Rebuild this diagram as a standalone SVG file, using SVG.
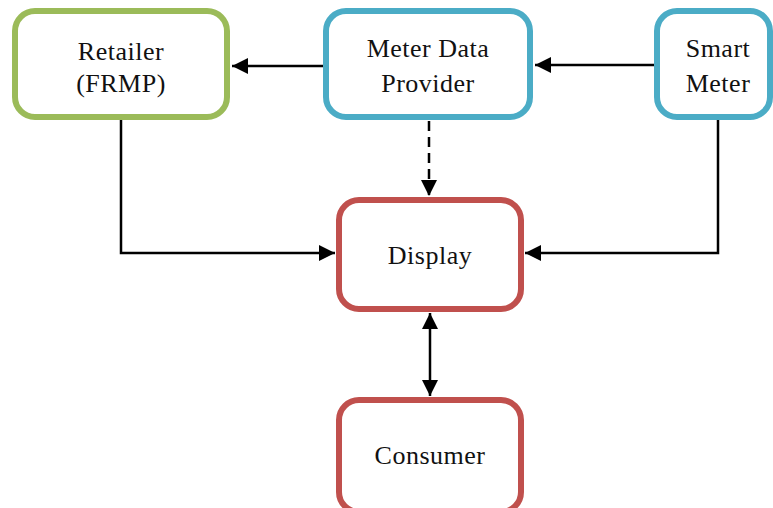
<svg xmlns="http://www.w3.org/2000/svg" width="773" height="508" viewBox="0 0 773 508">
  <defs>
    <marker id="arrow" viewBox="0 0 10 10" refX="10" refY="5" markerWidth="6.5" markerHeight="6.5" orient="auto-start-reverse" markerUnits="strokeWidth">
      <path d="M0,0 L10,5 L0,10 Z" fill="#000"/>
    </marker>
    <style>
      .box { fill: #fff; stroke-width: 6; }
      .green { stroke: #9BBB59; }
      .blue { stroke: #4BACC6; }
      .red { stroke: #C0504D; }
      .label { font-family: "Liberation Serif", "Times New Roman", serif; font-size: 26px; fill: #111; text-anchor: middle; letter-spacing: 0.5px; }
      .conn { fill: none; stroke: #000; stroke-width: 2.5; }
      .dash { stroke-dasharray: 10 6; }
    </style>
  </defs>

  <rect width="773" height="508" fill="#fff"/>

  <g id="connectors">
    <path class="conn" d="M323,66 L232,66" marker-end="url(#arrow)"/>
    <path class="conn" d="M654,65 L535,65" marker-end="url(#arrow)"/>
    <path class="conn dash" d="M429,121 L429,196" marker-end="url(#arrow)"/>
    <path class="conn" d="M121,120 L121,253 L335,253" marker-end="url(#arrow)"/>
    <path class="conn" d="M718,120 L718,253 L525,253" marker-end="url(#arrow)"/>
    <path class="conn" d="M430,313 L430,396" marker-start="url(#arrow)" marker-end="url(#arrow)"/>
  </g>

  <g id="retailer">
    <rect class="box green" x="15" y="11" width="212" height="106" rx="20"/>
    <text class="label" x="121" y="60">Retailer</text>
    <text class="label" x="121" y="92">(FRMP)</text>
  </g>

  <g id="meter-data-provider">
    <rect class="box blue" x="326" y="11" width="204" height="106" rx="20"/>
    <text class="label" x="428" y="57">Meter Data</text>
    <text class="label" x="428" y="92">Provider</text>
  </g>

  <g id="smart-meter">
    <rect class="box blue" x="657" y="11" width="113" height="106" rx="20"/>
    <text class="label" x="718" y="57">Smart</text>
    <text class="label" x="718" y="92">Meter</text>
  </g>

  <g id="display">
    <rect class="box red" x="339" y="200" width="182" height="109" rx="20"/>
    <text class="label" x="430" y="264">Display</text>
  </g>

  <g id="consumer">
    <rect class="box red" x="339" y="400" width="182" height="112" rx="20"/>
    <text class="label" x="430" y="464">Consumer</text>
  </g>
</svg>
